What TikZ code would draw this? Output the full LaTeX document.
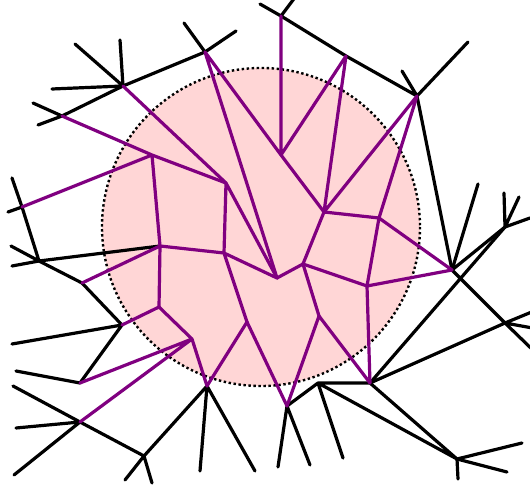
\documentclass[tikz,border=0pt]{standalone}
\usepackage{tikz}

\definecolor{dualpurple}{RGB}{128,0,128}
\definecolor{diskpink}{RGB}{255,214,214}

\begin{document}
\begin{tikzpicture}[x=1pt, y=-1pt, line cap=round, line join=round,
  tree/.style={black, line width=3.2pt},
  dual/.style={dualpurple, line width=3.2pt}]
  \useasboundingbox (0,0) rectangle (530,486);
  % the disk
  \fill[diskpink] (261,227) circle (159);
  \draw[line width=2.4pt, dash pattern=on 2.4pt off 2.6pt, line cap=butt] (261,227) circle (159);

  % vertices of the outer tree
  \coordinate (a) at (281,16);  \coordinate (b) at (346,56);  \coordinate (c) at (417,96);
  \coordinate (d) at (205,52);  \coordinate (e) at (123,86);  \coordinate (f) at (62,116);
  \coordinate (g) at (22,207);  \coordinate (h) at (39,261);  \coordinate (i) at (82,283);
  \coordinate (j) at (122,325); \coordinate (k) at (80,383);  \coordinate (m) at (80,422);
  \coordinate (n) at (144,456); \coordinate (o) at (207,386); \coordinate (q) at (287,406);
  \coordinate (r) at (318,383); \coordinate (s) at (370,383); \coordinate (t) at (457,459);
  \coordinate (u) at (505,323); \coordinate (v) at (452,270); \coordinate (w) at (505,227);
  % vertices inside the disk
  \coordinate (p1) at (281,155);  \coordinate (p2) at (226,183);  \coordinate (p3) at (324,212);
  \coordinate (p4) at (379,218);  \coordinate (p5) at (367,286);  \coordinate (p6) at (303,264);
  \coordinate (p7) at (277,278);  \coordinate (p8) at (224,253);  \coordinate (p9) at (160,246);
  \coordinate (p10) at (159,307); \coordinate (p11) at (192,339); \coordinate (p12) at (247,322);
  \coordinate (p13) at (319,316); \coordinate (p0) at (152,155);
  % leaves
  \coordinate (a1) at (260,4);   \coordinate (a2) at (296,-4);
  \coordinate (c1) at (402,71);  \coordinate (c2) at (468,42);
  \coordinate (d1) at (184,23);  \coordinate (d2) at (236,31);
  \coordinate (e1) at (75,44);   \coordinate (e2) at (120,40);  \coordinate (e3) at (52,89);
  \coordinate (f1) at (33,103);  \coordinate (f2) at (38,125);
  \coordinate (g1) at (12,178);  \coordinate (g2) at (8,212);
  \coordinate (h1) at (11,246);  \coordinate (h2) at (12,266);
  \coordinate (j1) at (12,344);  \coordinate (k1) at (16,371);
  \coordinate (m1) at (13,386);  \coordinate (m2) at (16,428);  \coordinate (m3) at (14,475);
  \coordinate (n1) at (125,480); \coordinate (n2) at (152,483);
  \coordinate (o1) at (200,471); \coordinate (o2) at (255,471);
  \coordinate (q1) at (278,467); \coordinate (q2) at (310,465);
  \coordinate (r1) at (343,458);
  \coordinate (t1) at (522,443); \coordinate (t2) at (507,472); \coordinate (t3) at (458,479);
  \coordinate (u1) at (539,309); \coordinate (u2) at (538,329); \coordinate (u3) at (538,355);
  \coordinate (v1) at (478,184);
  \coordinate (w1) at (504,193); \coordinate (w2) at (519,197); \coordinate (w3) at (530,218);

  % outer tree (black)
  \draw[tree] (a)--(b)--(c) (a)--(a1) (a)--(a2) (c)--(c1) (c)--(c2) (c)--(v);
  \draw[tree] (d)--(e) (d)--(d1) (d)--(d2) (e)--(e1) (e)--(e2) (e)--(e3) (e)--(f)--(f2) (f)--(f1);
  \draw[tree] (g1)--(g)--(h) (g)--(g2) (h)--(h1) (h)--(h2) (h)--(p9) (h)--(i)--(j)--(k)--(k1) (j)--(j1);
  \draw[tree] (m1)--(m)--(n) (m)--(m2) (m)--(m3) (n)--(n1) (n)--(n2) (n)--(o)--(o1) (o)--(o2);
  \draw[tree] (q)--(q1) (q)--(q2) (q)--(r)--(r1) (r)--(s) (r)--(t) (s)--(t);
  \draw[tree] (t)--(t1) (t)--(t2) (t)--(t3) (s)--(w) (s)--(u)--(u1) (u)--(u2) (v)--(u)--(u3);
  \draw[tree] (v)--(v1) (v)--(w) (w)--(w1) (w)--(w2) (w)--(w3);

  % dual edges (purple)
  \draw[dual] (a)--(p1) (b)--(p1) (b)--(p3) (c)--(p3) (c)--(p4) (d)--(p1) (d)--(p7) (e)--(p2);
  \draw[dual] (f)--(p0) (p0)--(p2) (p0)--(g) (p0)--(p9) (p2)--(p8) (p2)--(p7) (p1)--(p3);
  \draw[dual] (p3)--(p4) (p3)--(p6) (p4)--(p5) (p4)--(v) (p5)--(v) (p5)--(p6) (p5)--(s);
  \draw[dual] (p6)--(p7) (p6)--(p13) (p7)--(p8) (p8)--(p9) (p8)--(p12) (p9)--(i) (p9)--(p10);
  \draw[dual] (p10)--(j) (p10)--(p11) (p11)--(k) (p11)--(m) (p11)--(o) (o)--(p12) (p12)--(q);
  \draw[dual] (q)--(p13) (p13)--(s);
\end{tikzpicture}
\end{document}
